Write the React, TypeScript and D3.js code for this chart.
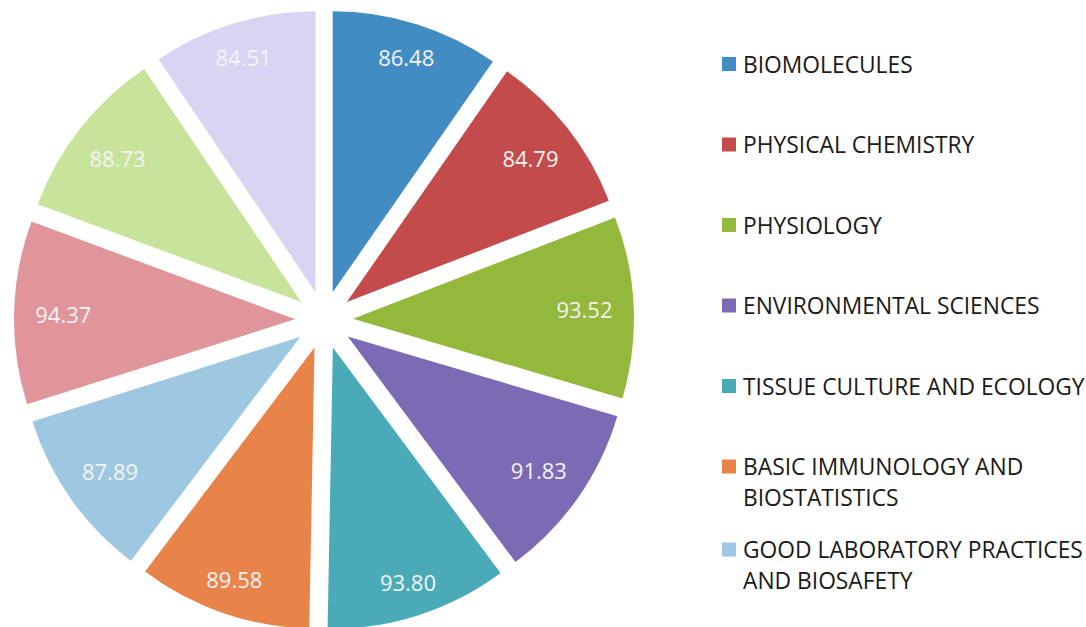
import React from "react";
import * as d3 from "d3";

const categories = [
  "BIOMOLECULES",
  "PHYSICAL CHEMISTRY",
  "PHYSIOLOGY",
  "ENVIRONMENTAL SCIENCES",
  "TISSUE CULTURE AND ECOLOGY",
  "BASIC IMMUNOLOGY AND|BIOSTATISTICS",
  "GOOD LABORATORY PRACTICES|AND BIOSAFETY",
  "SUBJECT 8",
  "SUBJECT 9",
  "SUBJECT 10",
];
const values = [86.48, 84.79, 93.52, 91.83, 93.8, 89.58, 87.89, 94.37, 88.73, 84.51];
const colors = [
  "#428cc4",
  "#c44b4b",
  "#94b83c",
  "#7d6ab4",
  "#4aaab8",
  "#e8844a",
  "#9ec8e2",
  "#e0959b",
  "#c8e39a",
  "#d8d4f2",
];

const W = 1086;
const H = 627;
const CX = 324;
const CY = 320;
const R = 281;
const EXPLODE = 29;
const LABEL_R = 263;

export default function App() {
  const pie = d3
    .pie<number>()
    .sort(null)
    .value((v) => v)
    .startAngle(0)
    .endAngle(2 * Math.PI);
  const arcs = pie(values);
  const arc = d3.arc<d3.PieArcDatum<number>>().innerRadius(0).outerRadius(R);

  const legendY: number[] = [];
  let y = 64;
  categories.forEach((c) => {
    const lines = c.split("|").length;
    legendY.push(y);
    y += lines > 1 ? 83 : 80.5;
  });

  return (
    <div style={{ position: "absolute", left: 0, top: 0, width: W, height: H, background: "#fff" }}>
      <svg width={W} height={H} style={{ display: "block" }}>
        <rect width={W} height={H} fill="#fff" />
        <g transform={`translate(${CX},${CY})`}>
          {arcs.map((a, i) => {
            const mid = (a.startAngle + a.endAngle) / 2;
            const dx = Math.sin(mid) * EXPLODE;
            const dy = -Math.cos(mid) * EXPLODE;
            const s = Math.abs(Math.sin(mid));
            const c = Math.abs(Math.cos(mid));
            const dist = LABEL_R - (s * 31 + c * 8);
            const lx = dx + Math.sin(mid) * dist;
            const ly = dy - Math.cos(mid) * dist;
            return (
              <g key={i}>
                <path d={arc(a) || ""} transform={`translate(${dx},${dy})`} fill={colors[i]} />
                <text
                  x={lx}
                  y={ly}
                  textAnchor="middle"
                  dominantBaseline="central"
                  fontFamily="'Open Sans', sans-serif"
                  fontSize={22}
                  fill="#f4f4f4"
                >
                  {values[i].toFixed(2)}
                </text>
              </g>
            );
          })}
        </g>
        <g>
          {categories.map((c, i) => {
            const lines = c.split("|");
            const ly = legendY[i];
            if (ly + 7 > H) return null;
            return (
              <g key={i}>
                <rect x={722} y={ly - 7} width={14} height={14} fill={colors[i]} />
                {lines.map((t, j) => (
                  <text
                    key={j}
                    x={743}
                    y={ly + j * 31}
                    dominantBaseline="central"
                    fontFamily="'Open Sans', sans-serif"
                    fontSize={22.8}
                    fill="#1a1a1a"
                  >
                    {t}
                  </text>
                ))}
              </g>
            );
          })}
        </g>
      </svg>
    </div>
  );
}
